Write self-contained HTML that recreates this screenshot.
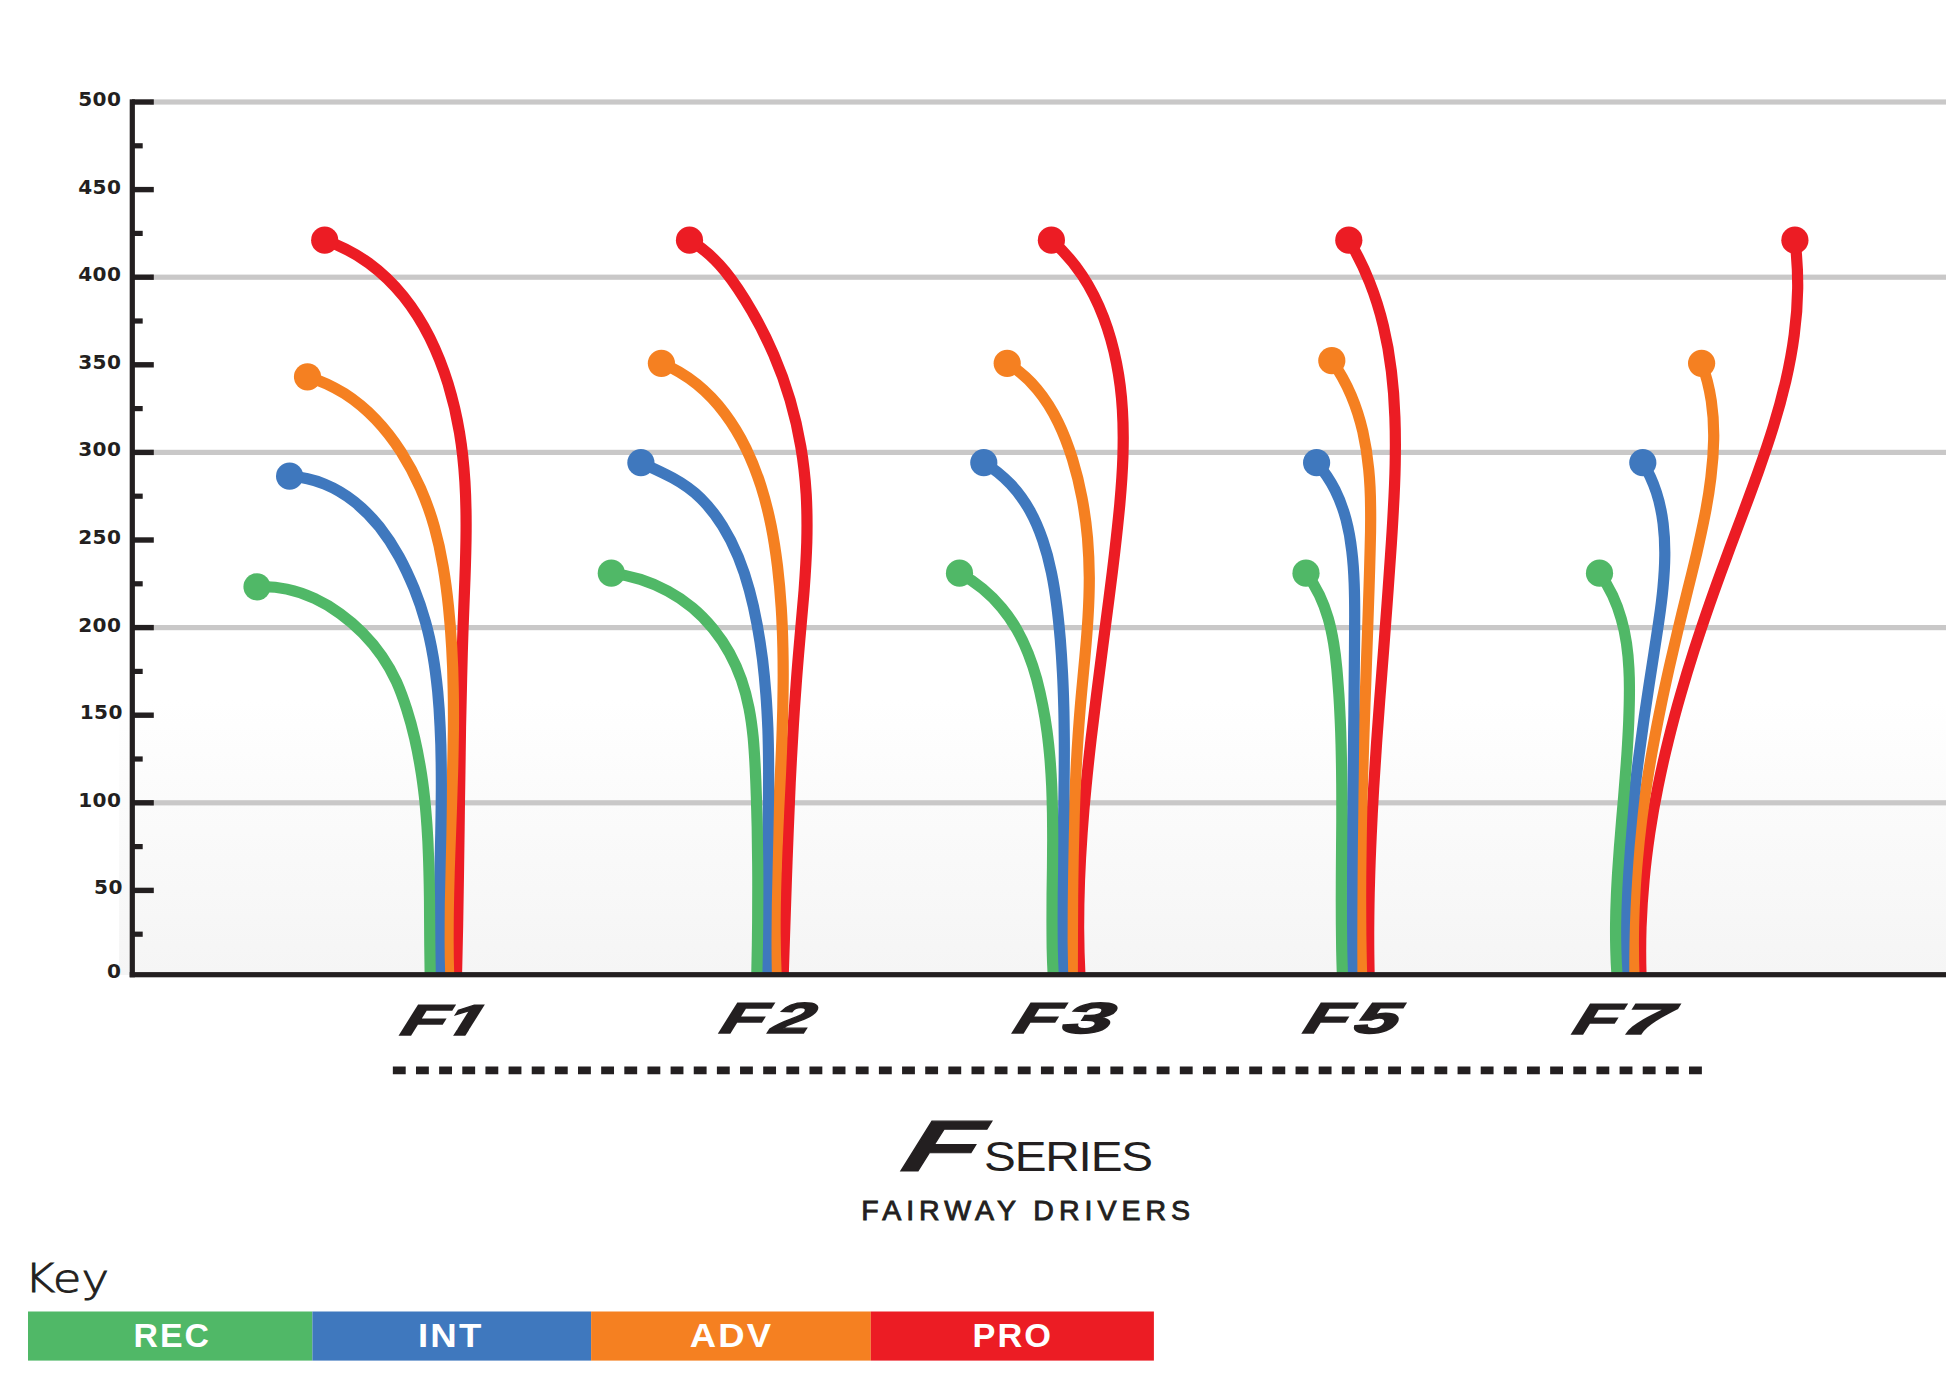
<!DOCTYPE html>
<html lang="en"><head><meta charset="utf-8"><title>F Series Fairway Drivers</title>
<style>html,body{margin:0;padding:0;background:#fff}body{width:1946px;height:1398px;overflow:hidden}svg{display:block}</style></head>
<body>
<svg width="1946" height="1398" viewBox="0 0 1946 1398">
<defs><linearGradient id="bg" x1="0" y1="0" x2="0" y2="1"><stop offset="0" stop-color="#ffffff"/><stop offset="0.37" stop-color="#fbfbfb"/><stop offset="1" stop-color="#f5f5f5"/></linearGradient></defs>
<rect x="0" y="0" width="1946" height="1398" fill="#ffffff"/>
<rect x="119" y="700" width="1827" height="275" fill="url(#bg)"/>
<g fill="#c9c8c8">
<rect x="150" y="99.4" width="1796" height="5.2"/>
<rect x="150" y="274.6" width="1796" height="5.2"/>
<rect x="150" y="449.8" width="1796" height="5.2"/>
<rect x="150" y="625.0" width="1796" height="5.2"/>
<rect x="150" y="800.2" width="1796" height="5.2"/>
</g>
<g fill="none" stroke-width="11.2">
<path d="M324.7,240.2 C341.1,245.8 355.7,253.6 368.8,263.1 C381.9,272.7 393.5,284.0 403.6,296.5 C413.7,309.1 422.4,323.0 429.8,337.7 C437.1,352.4 443.2,368.0 448.1,383.9 C453.0,399.9 456.8,416.2 459.5,432.6 C462.2,448.9 463.9,465.3 464.9,481.6 C465.9,498.0 466.2,514.4 466.1,530.7 C466.0,547.1 465.5,563.5 464.9,580.0 C464.2,596.4 463.6,612.8 463.0,629.3 C462.4,645.7 462.0,662.2 461.6,678.6 C461.2,695.1 460.8,711.6 460.5,728.0 C460.3,744.5 460.0,761.0 459.8,777.5 C459.5,794.0 459.3,810.4 459.1,826.9 C458.9,843.4 458.7,859.9 458.4,876.3 C458.2,892.8 457.9,909.3 457.6,925.7 C457.3,942.2 456.9,958.6 456.5,975.0" stroke="#ec1c24"/>
<path d="M307.5,376.8 C320.8,380.6 333.1,386.4 344.5,393.6 C355.9,400.9 366.2,409.6 375.7,419.4 C385.1,429.2 393.5,440.2 401.0,451.7 C408.4,463.3 414.9,475.6 420.5,488.2 C426.0,500.7 430.6,513.6 434.3,526.7 C438.0,539.8 440.9,553.1 443.1,566.5 C445.4,579.9 447.1,593.4 448.5,606.9 C449.9,620.4 451.0,633.9 451.7,647.5 C452.5,661.1 453.0,674.7 453.2,688.3 C453.5,702.0 453.5,715.6 453.4,729.3 C453.2,743.0 453.0,756.6 452.6,770.3 C452.2,784.0 451.7,797.7 451.3,811.4 C450.8,825.1 450.3,838.8 449.8,852.5 C449.3,866.1 448.9,879.8 448.6,893.4 C448.3,907.1 448.1,920.7 448.1,934.3 C448.0,947.9 448.2,961.5 448.6,975.0" stroke="#f58021"/>
<path d="M289.6,476.2 C302.1,476.9 313.8,479.7 324.6,484.2 C335.4,488.6 345.4,494.7 354.6,501.9 C363.7,509.2 372.0,517.6 379.4,526.8 C386.7,536.1 393.2,546.0 399.0,556.4 C404.7,566.8 409.7,577.7 414.2,588.7 C418.6,599.6 422.4,610.8 425.5,622.1 C428.7,633.4 431.1,644.9 433.1,656.5 C435.1,668.1 436.5,679.7 437.7,691.5 C438.8,703.2 439.6,715.0 440.1,726.8 C440.7,738.6 441.1,750.4 441.2,762.2 C441.4,774.0 441.4,785.9 441.3,797.7 C441.2,809.5 441.0,821.4 440.8,833.2 C440.5,845.1 440.2,856.9 440.0,868.7 C439.7,880.6 439.4,892.4 439.2,904.2 C439.1,916.0 439.0,927.9 439.0,939.7 C439.0,951.5 439.2,963.2 439.6,975.0" stroke="#3f78be"/>
<path d="M257.0,586.8 C267.2,586.2 277.1,587.0 286.8,589.1 C296.4,591.1 305.7,594.3 314.7,598.5 C323.6,602.6 332.2,607.8 340.2,613.7 C348.3,619.5 355.9,626.1 362.8,633.2 C369.8,640.3 376.2,647.9 381.9,656.1 C387.5,664.2 392.4,672.8 396.5,681.8 C400.5,690.8 403.8,700.1 406.8,709.5 C409.8,718.9 412.4,728.4 414.6,738.0 C416.8,747.6 418.7,757.3 420.3,767.0 C422.0,776.8 423.3,786.7 424.4,796.5 C425.5,806.4 426.3,816.4 427.0,826.3 C427.7,836.3 428.2,846.3 428.5,856.3 C428.9,866.2 429.1,876.2 429.3,886.2 C429.5,896.2 429.6,906.2 429.6,916.1 C429.7,926.0 429.7,935.9 429.8,945.7 C429.9,955.6 430.0,965.3 430.2,975.0" stroke="#50b867"/>
</g>
<circle cx="324.7" cy="240.2" r="13.6" fill="#ec1c24"/>
<circle cx="307.5" cy="376.8" r="13.6" fill="#f58021"/>
<circle cx="289.6" cy="476.2" r="13.6" fill="#3f78be"/>
<circle cx="257.0" cy="586.8" r="13.6" fill="#50b867"/>
<g fill="none" stroke-width="11.2">
<path d="M689.5,240.2 C703.7,248.4 715.2,259.2 725.2,271.4 C735.2,283.7 743.8,297.3 751.9,311.3 C760.0,325.2 767.3,339.8 773.7,354.6 C780.2,369.5 785.6,384.7 790.1,400.0 C794.6,415.4 798.2,431.0 800.8,446.7 C803.5,462.4 805.2,478.3 806.2,494.2 C807.1,510.2 807.2,526.2 806.8,542.2 C806.3,558.2 805.3,574.3 804.1,590.3 C802.8,606.4 801.4,622.5 799.9,638.5 C798.5,654.6 797.1,670.6 796.0,686.7 C794.8,702.7 793.7,718.7 792.8,734.7 C791.8,750.7 791.0,766.6 790.2,782.6 C789.5,798.6 788.8,814.6 788.2,830.6 C787.5,846.6 787.0,862.6 786.4,878.6 C785.9,894.6 785.3,910.6 784.8,926.7 C784.3,942.8 783.8,958.9 783.2,975.0" stroke="#ec1c24"/>
<path d="M661.4,363.3 C674.5,368.6 686.3,375.7 696.8,384.2 C707.3,392.7 716.6,402.6 724.7,413.4 C732.9,424.3 739.9,436.0 745.9,448.2 C751.9,460.5 756.8,473.1 761.0,486.1 C765.1,499.0 768.4,512.3 771.1,525.7 C773.8,539.1 775.8,552.7 777.5,566.3 C779.1,579.9 780.3,593.5 781.2,607.1 C782.1,620.7 782.6,634.4 782.9,648.0 C783.2,661.6 783.3,675.2 783.1,688.8 C783.0,702.4 782.7,716.0 782.2,729.6 C781.8,743.2 781.2,756.8 780.6,770.5 C780.0,784.1 779.3,797.7 778.6,811.3 C778.0,824.9 777.3,838.5 776.8,852.2 C776.3,865.8 775.8,879.4 775.5,893.1 C775.2,906.7 775.0,920.4 775.1,934.0 C775.2,947.7 775.5,961.3 776.1,975.0" stroke="#f58021"/>
<path d="M640.9,462.7 C651.4,467.5 662.3,472.2 672.6,477.9 C683.0,483.6 692.6,490.3 700.9,498.4 C709.2,506.6 716.3,516.0 722.5,525.9 C728.7,535.8 733.9,546.2 738.3,557.0 C742.7,567.8 746.4,578.9 749.4,590.2 C752.5,601.5 755.0,613.0 757.1,624.6 C759.2,636.1 761.0,647.7 762.5,659.3 C763.9,670.9 765.0,682.5 765.9,694.2 C766.8,705.8 767.4,717.5 767.9,729.1 C768.3,740.8 768.5,752.5 768.6,764.2 C768.7,775.9 768.6,787.7 768.5,799.4 C768.3,811.1 768.1,822.8 767.8,834.6 C767.6,846.3 767.2,858.0 767.0,869.7 C766.7,881.5 766.4,893.2 766.2,904.9 C766.0,916.6 765.9,928.3 765.9,940.0 C765.9,951.7 766.0,963.3 766.3,975.0" stroke="#3f78be"/>
<path d="M611.3,573.2 C621.2,574.3 631.0,576.4 640.5,579.4 C650.0,582.4 659.2,586.4 667.9,591.2 C676.7,595.9 684.9,601.5 692.5,607.8 C700.1,614.1 706.9,621.2 713.1,628.7 C719.3,636.3 724.8,644.4 729.5,653.0 C734.2,661.5 738.2,670.5 741.4,679.7 C744.6,688.9 747.1,698.5 749.0,708.1 C750.9,717.8 752.2,727.7 753.2,737.6 C754.1,747.6 754.7,757.6 755.2,767.6 C755.7,777.6 756.1,787.6 756.4,797.5 C756.7,807.4 757.0,817.3 757.2,827.1 C757.4,837.0 757.5,846.8 757.6,856.6 C757.8,866.3 757.8,876.1 757.8,885.9 C757.8,895.7 757.8,905.5 757.7,915.4 C757.7,925.2 757.5,935.1 757.4,945.0 C757.2,955.0 757.0,964.9 756.8,975.0" stroke="#50b867"/>
</g>
<circle cx="689.5" cy="240.2" r="13.6" fill="#ec1c24"/>
<circle cx="661.4" cy="363.3" r="13.6" fill="#f58021"/>
<circle cx="640.9" cy="462.7" r="13.6" fill="#3f78be"/>
<circle cx="611.3" cy="573.2" r="13.6" fill="#50b867"/>
<g fill="none" stroke-width="11.2">
<path d="M1051.4,240.2 C1063.4,250.6 1073.6,262.5 1082.3,275.5 C1090.9,288.5 1097.9,302.6 1103.6,317.4 C1109.2,332.2 1113.5,347.5 1116.5,363.1 C1119.6,378.6 1121.5,394.3 1122.4,410.0 C1123.4,425.7 1123.4,441.4 1122.9,457.1 C1122.4,472.8 1121.2,488.5 1119.8,504.3 C1118.3,520.0 1116.6,535.7 1114.8,551.4 C1113.0,567.1 1111.0,582.7 1109.0,598.4 C1107.0,614.0 1105.0,629.6 1102.9,645.2 C1100.9,660.9 1098.8,676.5 1096.9,692.1 C1094.9,707.7 1092.9,723.3 1091.1,739.0 C1089.3,754.6 1087.6,770.2 1086.1,785.9 C1084.5,801.5 1083.2,817.2 1082.1,832.9 C1081.0,848.6 1080.1,864.3 1079.5,880.1 C1078.9,895.8 1078.6,911.6 1078.6,927.4 C1078.7,943.2 1079.1,959.1 1079.9,975.0" stroke="#ec1c24"/>
<path d="M1007.2,363.3 C1019.0,370.5 1028.8,379.3 1037.2,389.3 C1045.5,399.3 1052.4,410.4 1058.1,422.2 C1063.9,434.0 1068.5,446.5 1072.5,459.2 C1076.4,471.9 1079.6,484.9 1082.0,498.0 C1084.5,511.1 1086.3,524.4 1087.5,537.8 C1088.6,551.1 1089.2,564.5 1089.3,577.8 C1089.3,591.1 1088.8,604.3 1088.0,617.5 C1087.2,630.7 1086.1,643.9 1084.9,657.0 C1083.7,670.1 1082.4,683.3 1081.2,696.4 C1080.0,709.6 1079.0,722.8 1078.1,736.0 C1077.2,749.3 1076.4,762.5 1075.8,775.8 C1075.2,789.1 1074.6,802.4 1074.2,815.7 C1073.8,829.0 1073.5,842.3 1073.2,855.6 C1072.9,868.9 1072.8,882.2 1072.6,895.5 C1072.5,908.8 1072.4,922.1 1072.4,935.3 C1072.3,948.6 1072.3,961.8 1072.3,975.0" stroke="#f58021"/>
<path d="M983.8,462.7 C994.2,468.9 1003.0,476.1 1010.6,484.2 C1018.2,492.2 1024.5,501.1 1029.8,510.5 C1035.1,520.0 1039.3,530.0 1042.8,540.4 C1046.4,550.8 1049.2,561.6 1051.4,572.5 C1053.7,583.5 1055.4,594.6 1056.8,605.8 C1058.3,617.0 1059.3,628.3 1060.3,639.5 C1061.2,650.8 1061.9,662.0 1062.5,673.2 C1063.1,684.4 1063.5,695.6 1063.8,706.8 C1064.1,718.0 1064.2,729.2 1064.3,740.4 C1064.4,751.5 1064.3,762.7 1064.2,773.9 C1064.1,785.0 1064.0,796.2 1063.8,807.4 C1063.6,818.5 1063.4,829.7 1063.1,840.8 C1062.9,852.0 1062.7,863.2 1062.5,874.3 C1062.3,885.5 1062.2,896.7 1062.1,907.8 C1062.0,919.0 1062.0,930.2 1062.0,941.4 C1062.1,952.6 1062.3,963.8 1062.6,975.0" stroke="#3f78be"/>
<path d="M959.5,573.2 C968.0,577.7 975.7,582.9 982.7,588.7 C989.7,594.5 996.1,600.8 1001.7,607.7 C1007.4,614.5 1012.4,621.8 1016.8,629.5 C1021.2,637.2 1024.9,645.2 1028.2,653.5 C1031.5,661.8 1034.3,670.3 1036.7,679.0 C1039.0,687.7 1041.0,696.5 1042.7,705.3 C1044.5,714.2 1045.9,723.1 1047.1,732.0 C1048.3,741.0 1049.2,749.9 1050.0,758.9 C1050.7,767.9 1051.3,776.9 1051.7,785.9 C1052.1,794.9 1052.3,803.9 1052.5,813.0 C1052.6,822.0 1052.7,831.1 1052.7,840.1 C1052.6,849.1 1052.6,858.2 1052.5,867.2 C1052.4,876.3 1052.2,885.3 1052.1,894.3 C1052.0,903.4 1052.0,912.4 1052.0,921.4 C1052.0,930.4 1052.1,939.3 1052.2,948.3 C1052.4,957.2 1052.7,966.1 1053.2,975.0" stroke="#50b867"/>
</g>
<circle cx="1051.4" cy="240.2" r="13.6" fill="#ec1c24"/>
<circle cx="1007.2" cy="363.3" r="13.6" fill="#f58021"/>
<circle cx="983.8" cy="462.7" r="13.6" fill="#3f78be"/>
<circle cx="959.5" cy="573.2" r="13.6" fill="#50b867"/>
<g fill="none" stroke-width="11.2">
<path d="M1348.8,240.2 C1357.1,253.8 1363.9,267.8 1369.6,282.2 C1375.3,296.5 1379.9,311.2 1383.4,326.1 C1387.0,341.0 1389.6,356.1 1391.4,371.3 C1393.3,386.6 1394.4,401.9 1394.9,417.4 C1395.5,432.8 1395.5,448.3 1395.2,463.9 C1394.9,479.4 1394.2,495.0 1393.3,510.6 C1392.5,526.2 1391.5,541.7 1390.4,557.2 C1389.4,572.8 1388.2,588.2 1387.1,603.7 C1385.9,619.2 1384.8,634.7 1383.6,650.1 C1382.4,665.5 1381.2,681.0 1380.0,696.4 C1378.8,711.8 1377.7,727.2 1376.6,742.7 C1375.5,758.1 1374.5,773.5 1373.6,788.9 C1372.7,804.4 1371.9,819.8 1371.2,835.3 C1370.5,850.7 1369.9,866.2 1369.5,881.7 C1369.0,897.2 1368.8,912.7 1368.7,928.3 C1368.6,943.8 1368.8,959.4 1369.1,975.0" stroke="#ec1c24"/>
<path d="M1331.8,360.7 C1339.7,371.8 1346.0,383.3 1351.1,395.2 C1356.1,407.0 1359.9,419.1 1362.8,431.5 C1365.6,443.9 1367.5,456.5 1368.7,469.2 C1370.0,482.0 1370.5,494.9 1370.6,507.9 C1370.8,520.9 1370.6,533.9 1370.2,547.0 C1369.9,560.0 1369.5,573.1 1369.1,586.1 C1368.7,599.1 1368.3,612.1 1367.8,625.1 C1367.4,638.1 1366.9,651.1 1366.4,664.1 C1366.0,677.0 1365.5,690.0 1365.0,702.9 C1364.6,715.9 1364.1,728.8 1363.7,741.8 C1363.3,754.7 1362.9,767.7 1362.5,780.6 C1362.1,793.5 1361.8,806.5 1361.5,819.4 C1361.3,832.3 1361.0,845.3 1360.9,858.2 C1360.7,871.2 1360.6,884.1 1360.6,897.1 C1360.6,910.1 1360.7,923.0 1360.8,936.0 C1361.0,949.0 1361.2,962.0 1361.6,975.0" stroke="#f58021"/>
<path d="M1316.6,462.7 C1324.2,471.3 1330.2,480.4 1335.0,489.9 C1339.8,499.5 1343.4,509.4 1346.1,519.7 C1348.8,529.9 1350.6,540.4 1351.8,551.1 C1353.1,561.8 1353.8,572.6 1354.2,583.6 C1354.6,594.5 1354.7,605.4 1354.7,616.4 C1354.7,627.4 1354.6,638.4 1354.5,649.3 C1354.4,660.2 1354.3,671.2 1354.2,682.1 C1354.1,692.9 1354.0,703.8 1353.9,714.7 C1353.7,725.5 1353.6,736.4 1353.5,747.2 C1353.3,758.1 1353.2,768.9 1353.1,779.7 C1352.9,790.5 1352.8,801.4 1352.7,812.2 C1352.5,823.0 1352.4,833.8 1352.3,844.6 C1352.2,855.5 1352.1,866.3 1352.0,877.1 C1351.9,887.9 1351.8,898.8 1351.8,909.7 C1351.8,920.5 1351.7,931.4 1351.7,942.3 C1351.7,953.2 1351.7,964.1 1351.8,975.0" stroke="#3f78be"/>
<path d="M1306.0,573.2 C1311.3,580.1 1315.7,587.4 1319.4,595.0 C1323.0,602.5 1325.9,610.4 1328.2,618.4 C1330.5,626.4 1332.2,634.7 1333.6,643.0 C1335.0,651.4 1336.0,659.8 1336.8,668.4 C1337.6,676.9 1338.2,685.4 1338.8,693.9 C1339.4,702.4 1339.8,711.0 1340.2,719.5 C1340.6,728.0 1340.9,736.6 1341.1,745.1 C1341.3,753.6 1341.5,762.2 1341.6,770.7 C1341.7,779.2 1341.8,787.8 1341.8,796.3 C1341.8,804.8 1341.8,813.4 1341.8,821.9 C1341.7,830.4 1341.7,839.0 1341.6,847.5 C1341.6,856.0 1341.5,864.5 1341.4,873.0 C1341.4,881.6 1341.4,890.1 1341.3,898.6 C1341.3,907.1 1341.3,915.6 1341.4,924.1 C1341.5,932.6 1341.6,941.1 1341.7,949.6 C1341.9,958.1 1342.1,966.5 1342.4,975.0" stroke="#50b867"/>
</g>
<circle cx="1348.8" cy="240.2" r="13.6" fill="#ec1c24"/>
<circle cx="1331.8" cy="360.7" r="13.6" fill="#f58021"/>
<circle cx="1316.6" cy="462.7" r="13.6" fill="#3f78be"/>
<circle cx="1306.0" cy="573.2" r="13.6" fill="#50b867"/>
<g fill="none" stroke-width="11.2">
<path d="M1794.9,240.2 C1797.0,256.4 1797.8,272.3 1797.7,288.1 C1797.5,303.9 1796.3,319.5 1794.2,335.0 C1792.2,350.4 1789.3,365.7 1785.8,380.9 C1782.2,396.1 1778.1,411.2 1773.5,426.2 C1768.9,441.2 1763.8,456.1 1758.5,471.0 C1753.2,485.9 1747.7,500.7 1742.1,515.6 C1736.5,530.4 1730.9,545.3 1725.4,560.2 C1719.9,575.0 1714.5,589.9 1709.3,604.9 C1704.1,619.8 1699.1,634.8 1694.2,649.8 C1689.4,664.8 1684.8,679.9 1680.5,695.0 C1676.1,710.1 1672.1,725.3 1668.3,740.6 C1664.5,755.8 1661.1,771.1 1658.0,786.5 C1654.9,801.8 1652.1,817.3 1649.8,832.8 C1647.5,848.4 1645.5,864.0 1644.1,879.7 C1642.6,895.4 1641.6,911.1 1641.0,927.0 C1640.5,942.9 1640.5,958.9 1641.0,975.0" stroke="#ec1c24"/>
<path d="M1701.6,363.3 C1706.3,375.8 1709.4,388.4 1711.3,401.0 C1713.2,413.7 1713.9,426.4 1713.7,439.2 C1713.5,452.0 1712.5,464.7 1710.9,477.5 C1709.4,490.2 1707.3,503.0 1704.8,515.7 C1702.3,528.4 1699.5,541.1 1696.6,553.8 C1693.6,566.4 1690.4,579.1 1687.3,591.7 C1684.2,604.4 1681.0,617.0 1678.0,629.7 C1675.0,642.3 1672.1,655.0 1669.2,667.6 C1666.4,680.2 1663.6,692.9 1661.0,705.5 C1658.4,718.2 1655.9,730.9 1653.6,743.5 C1651.2,756.2 1649.1,768.9 1647.1,781.6 C1645.1,794.4 1643.3,807.1 1641.6,819.9 C1640.0,832.7 1638.6,845.5 1637.5,858.3 C1636.3,871.1 1635.3,884.0 1634.7,896.9 C1634.0,909.8 1633.5,922.8 1633.4,935.8 C1633.3,948.8 1633.4,961.9 1633.9,975.0" stroke="#f58021"/>
<path d="M1642.8,462.7 C1648.7,472.3 1653.1,482.2 1656.4,492.4 C1659.7,502.5 1661.8,512.9 1663.1,523.4 C1664.4,533.9 1664.9,544.5 1664.8,555.2 C1664.7,565.9 1664.0,576.7 1663.0,587.5 C1662.0,598.3 1660.6,609.1 1659.0,619.9 C1657.5,630.7 1655.7,641.5 1654.1,652.3 C1652.4,663.1 1650.7,673.9 1649.1,684.6 C1647.4,695.4 1645.8,706.1 1644.3,716.8 C1642.8,727.5 1641.3,738.2 1639.9,748.9 C1638.4,759.6 1637.1,770.3 1635.8,781.0 C1634.5,791.7 1633.3,802.4 1632.2,813.1 C1631.1,823.8 1630.1,834.5 1629.1,845.2 C1628.2,855.9 1627.4,866.6 1626.7,877.4 C1626.0,888.2 1625.4,898.9 1624.9,909.7 C1624.4,920.6 1624.1,931.4 1623.9,942.3 C1623.7,953.1 1623.6,964.0 1623.7,975.0" stroke="#3f78be"/>
<path d="M1599.5,573.2 C1604.7,580.4 1609.0,587.8 1612.6,595.4 C1616.2,603.1 1619.0,610.9 1621.3,619.0 C1623.6,627.0 1625.3,635.1 1626.5,643.4 C1627.7,651.7 1628.5,660.1 1628.9,668.6 C1629.4,677.1 1629.5,685.6 1629.4,694.1 C1629.4,702.7 1629.1,711.2 1628.8,719.8 C1628.5,728.3 1628.0,736.8 1627.5,745.4 C1627.0,753.9 1626.4,762.4 1625.7,771.0 C1625.1,779.5 1624.4,788.0 1623.7,796.5 C1623.0,805.0 1622.2,813.5 1621.5,822.1 C1620.8,830.6 1620.1,839.1 1619.4,847.6 C1618.8,856.1 1618.2,864.6 1617.6,873.1 C1617.1,881.6 1616.6,890.1 1616.3,898.6 C1615.9,907.1 1615.7,915.6 1615.6,924.1 C1615.5,932.5 1615.6,941.0 1615.8,949.5 C1616.0,958.0 1616.4,966.5 1617.0,975.0" stroke="#50b867"/>
</g>
<circle cx="1794.9" cy="240.2" r="13.6" fill="#ec1c24"/>
<circle cx="1701.6" cy="363.3" r="13.6" fill="#f58021"/>
<circle cx="1642.8" cy="462.7" r="13.6" fill="#3f78be"/>
<circle cx="1599.5" cy="573.2" r="13.6" fill="#50b867"/>
<g fill="#231f20">
<rect x="129.7" y="99.3" width="5.2" height="878"/>
<rect x="129.7" y="972.1" width="1817" height="5.2"/>
<rect x="132" y="99.3" width="21.8" height="5.4"/>
<rect x="132" y="143.2" width="10.7" height="5.2"/>
<rect x="132" y="186.9" width="21.8" height="5.4"/>
<rect x="132" y="230.8" width="10.7" height="5.2"/>
<rect x="132" y="274.5" width="21.8" height="5.4"/>
<rect x="132" y="318.4" width="10.7" height="5.2"/>
<rect x="132" y="362.1" width="21.8" height="5.4"/>
<rect x="132" y="406.0" width="10.7" height="5.2"/>
<rect x="132" y="449.7" width="21.8" height="5.4"/>
<rect x="132" y="493.6" width="10.7" height="5.2"/>
<rect x="132" y="537.3" width="21.8" height="5.4"/>
<rect x="132" y="581.2" width="10.7" height="5.2"/>
<rect x="132" y="624.9" width="21.8" height="5.4"/>
<rect x="132" y="668.8" width="10.7" height="5.2"/>
<rect x="132" y="712.5" width="21.8" height="5.4"/>
<rect x="132" y="756.4" width="10.7" height="5.2"/>
<rect x="132" y="800.1" width="21.8" height="5.4"/>
<rect x="132" y="844.0" width="10.7" height="5.2"/>
<rect x="132" y="887.7" width="21.8" height="5.4"/>
<rect x="132" y="931.6" width="10.7" height="5.2"/>
</g>
<g font-family="'DejaVu Sans', 'Liberation Sans', sans-serif" font-weight="bold" font-size="18.8" fill="#231f20" text-anchor="end" letter-spacing="0.4" transform="scale(1.07,1)">
<text x="113.46" y="106.0">500</text>
<text x="113.46" y="193.6">450</text>
<text x="113.46" y="281.2">400</text>
<text x="113.46" y="368.8">350</text>
<text x="113.46" y="456.4">300</text>
<text x="113.46" y="544.0">250</text>
<text x="113.46" y="631.6">200</text>
<text x="114.86" y="719.2">150</text>
<text x="113.46" y="806.8">100</text>
<text x="114.86" y="894.4">50</text>
<text x="113.46" y="978.2">0</text>
</g>
<g font-family="'Liberation Sans', sans-serif" font-weight="bold" font-size="43.3" fill="#231f20" stroke="#231f20" stroke-width="1.5">
<text transform="translate(395.4,1035.0) skewX(-32) scale(1.625,1)" x="0 26.5" y="0">F1</text>
<g transform="translate(395.4,1035.0) skewX(-32) scale(1.625,1)" fill="#ffffff" stroke="none"><rect x="27.70" y="-6.3" width="8.1" height="7.5"/><rect x="43.30" y="-6.3" width="7.4" height="7.5"/></g>
<text transform="translate(714.8,1033.2) skewX(-32) scale(1.625,1)"><tspan x="0">F</tspan><tspan x="31.11" textLength="25.06" lengthAdjust="spacingAndGlyphs">2</tspan></text>
<text transform="translate(1007.9,1033.2) skewX(-32) scale(1.625,1)"><tspan x="0">F</tspan><tspan x="30.20" textLength="30.18" lengthAdjust="spacingAndGlyphs">3</tspan></text>
<text transform="translate(1298.2,1033.2) skewX(-32) scale(1.625,1)"><tspan x="0">F</tspan><tspan x="30.90" textLength="26.77" lengthAdjust="spacingAndGlyphs">5</tspan></text>
<text transform="translate(1567.5,1034.0) skewX(-32) scale(1.625,1)"><tspan x="0">F</tspan><tspan x="28.58" textLength="31.29" lengthAdjust="spacingAndGlyphs">7</tspan></text>
</g>
<line x1="392.85" y1="1070.4" x2="1701.9" y2="1070.4" stroke="#231f20" stroke-width="7.6" stroke-dasharray="12.85 10.296"/>
<text transform="translate(893,1171.3) skewX(-32) scale(1.626,1)" font-family="'Liberation Sans', sans-serif" font-weight="bold" font-size="72.5" fill="#231f20" stroke="#231f20" stroke-width="1">F</text>
<text transform="translate(984,1171) scale(1.135,1)" font-family="'Liberation Sans', sans-serif" font-size="42" fill="#231f20" letter-spacing="-1">SERIES</text>
<text x="1028.2" y="1220" text-anchor="middle" font-family="'Liberation Sans', sans-serif" font-size="28.5" fill="#231f20" stroke="#231f20" stroke-width="0.9" letter-spacing="5.0">FAIRWAY DRIVERS</text>
<text transform="translate(24.6,1292) scale(1.22,1)" font-family="'DejaVu Sans', 'Liberation Sans', sans-serif" font-weight="200" font-size="38.2" fill="#231f20" stroke="#231f20" stroke-width="0.85">Key</text>
<rect x="28.0" y="1311.5" width="284.4" height="49.1" fill="#50b867"/>
<rect x="312.4" y="1311.5" width="278.7" height="49.1" fill="#3f78be"/>
<rect x="591.1" y="1311.5" width="279.7" height="49.1" fill="#f58021"/>
<rect x="870.8" y="1311.5" width="283.1" height="49.1" fill="#ec1c24"/>
<g font-family="'Liberation Sans', sans-serif" font-weight="bold" font-size="33.4" letter-spacing="2" fill="#ffffff" text-anchor="middle">
<text transform="translate(171.2,1347.2) scale(1.013,1)" x="1">REC</text>
<text transform="translate(449.6,1347.2) scale(1.096,1)" x="1">INT</text>
<text transform="translate(730.4,1347.2) scale(1.093,1)" x="1">ADV</text>
<text transform="translate(1011.7,1347.2) scale(1.028,1)" x="1">PRO</text>
</g>
</svg>
</body></html>
